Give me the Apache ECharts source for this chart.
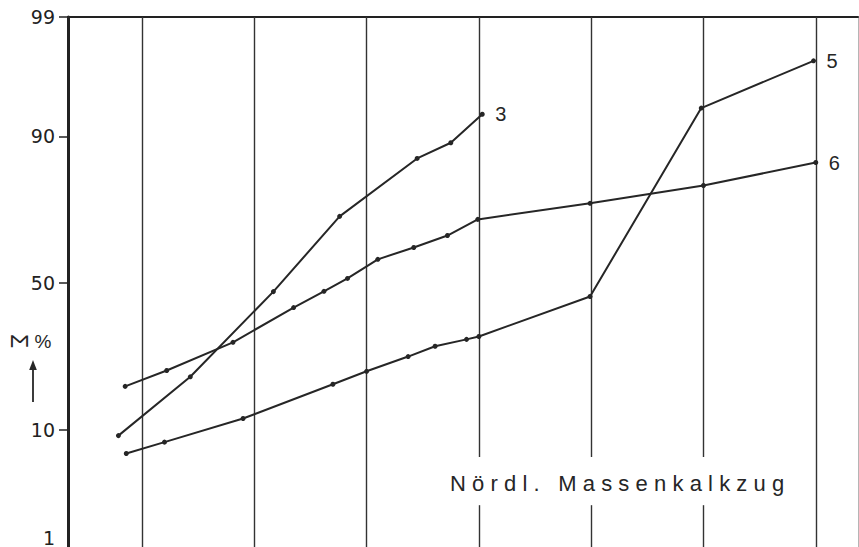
<!DOCTYPE html>
<html>
<head>
<meta charset="utf-8">
<script src="https://cdn.jsdelivr.net/npm/echarts@6/dist/echarts.min.js"></script>
<style>
  html, body { margin: 0; padding: 0; background: #fff; }
  #chart { width: 859px; height: 547px; }
</style>
</head>
<body>
<div id="chart"></div>
<script>
// Cumulative percentage curves on a probability (normal) scale.
// x: position across the grid columns (vertical rules at 1..7), y: cumulative percent.
const series3X = [0.79, 1.43, 2.17, 2.76, 3.45, 3.75, 4.03];
const series3Y = [9.1, 20.6, 47, 72, 86.2, 89, 93];

const series5X = [0.86, 1.20, 1.90, 2.70, 3.00, 3.37, 3.61, 3.89, 4.00, 4.99, 5.98, 6.98];
const series5Y = [6.8, 8.2, 11.8, 18.8, 22, 26, 29, 31.1, 32, 45.3, 93.7, 97.4];

const series6X = [0.85, 1.22, 1.81, 2.35, 2.62, 2.83, 3.10, 3.42, 3.72, 3.99, 4.99, 6.00, 7.00];
const series6Y = [18.3, 22.2, 30.2, 41.5, 47.1, 51.6, 58.2, 62.2, 66.1, 71.1, 75.7, 80.3, 85.4];

const seriesNames = ['3', '5', '6'];
const yTickPercents = [1, 10, 50, 90, 99];
const columnRules = [1, 2, 3, 4, 5, 6, 7];
// rules interrupted behind the caption, and the percent band left open for it
const rulesBehindCaption = [4, 5, 6];
const captionBand = [2.6, 6.4];
const regionLabel = 'Nördl. Massenkalkzug';

// Inverse of the standard normal CDF (Acklam's rational approximation)
function probit(p) {
  const a = [-3.969683028665376e+01, 2.209460984245205e+02, -2.759285104469687e+02, 1.383577518672690e+02, -3.066479806614716e+01, 2.506628277459239e+00];
  const b = [-5.447609879822406e+01, 1.615858368580409e+02, -1.556989798598866e+02, 6.680131188771972e+01, -1.328068155288572e+01];
  const c = [-7.784894002430293e-03, -3.223964580411365e-01, -2.400758277161838e+00, -2.549732539343734e+00, 4.374664141464968e+00, 2.938163982698783e+00];
  const d = [7.784695709041462e-03, 3.224671290700398e-01, 2.445134137142996e+00, 3.754408661907416e+00];
  const pl = 0.02425, ph = 1 - pl;
  let q, r;
  if (p < pl) {
    q = Math.sqrt(-2 * Math.log(p));
    return (((((c[0]*q + c[1])*q + c[2])*q + c[3])*q + c[4])*q + c[5]) / ((((d[0]*q + d[1])*q + d[2])*q + d[3])*q + 1);
  }
  if (p <= ph) {
    q = p - 0.5; r = q * q;
    return (((((a[0]*r + a[1])*r + a[2])*r + a[3])*r + a[4])*r + a[5]) * q / (((((b[0]*r + b[1])*r + b[2])*r + b[3])*r + b[4])*r + 1);
  }
  q = Math.sqrt(-2 * Math.log(1 - p));
  return -(((((c[0]*q + c[1])*q + c[2])*q + c[3])*q + c[4])*q + c[5]) / ((((d[0]*q + d[1])*q + d[2])*q + d[3])*q + 1);
}

const toPoints = (xs, ys) => xs.map((x, i) => [x, probit(ys[i] / 100)]);
const yTickValues = yTickPercents.map(p => probit(p / 100));
const yMin = probit(0.01), yMax = probit(0.99);

const ink = '#262626';
const font = "'Liberation Sans', Arial, sans-serif";
const tickFont = "'DejaVu Sans', sans-serif";

// vertical rules: full height, or split around the caption band
const ruleData = [];
columnRules.forEach(function (v) {
  if (rulesBehindCaption.indexOf(v) >= 0) {
    ruleData.push([{ coord: [v, yMax] }, { coord: [v, probit(captionBand[1] / 100)] }]);
    ruleData.push([{ coord: [v, probit(captionBand[0] / 100)] }, { coord: [v, yMin] }]);
  } else {
    ruleData.push({ xAxis: v });
  }
});

function lineSeries(name, xs, ys, extra) {
  return Object.assign({
    type: 'line',
    name: name,
    data: toPoints(xs, ys),
    symbol: 'circle',
    symbolSize: 5,
    showSymbol: true,
    itemStyle: { color: ink },
    lineStyle: { color: ink, width: 2 },
    endLabel: {
      show: true, formatter: name, distance: 13,
      fontSize: 20, fontFamily: font, color: ink
    },
    emphasis: { disabled: true },
    silent: true,
    z: 5
  }, extra || {});
}

const chart = echarts.init(document.getElementById('chart'), null, { renderer: 'svg' });
chart.setOption({
  animation: false,
  backgroundColor: '#fff',
  grid: { left: 68, right: 1, top: 17, height: 532, outerBoundsMode: 'none', containLabel: false },
  xAxis: {
    type: 'value', min: 0.341, max: 7.376, position: 'top',
    axisLine: { show: true, onZero: false, lineStyle: { color: '#222', width: 2 } },
    axisTick: { show: false }, axisLabel: { show: false }, splitLine: { show: false }
  },
  yAxis: [{
    type: 'value', min: yMin, max: yMax,
    axisLine: { show: true, onZero: false, lineStyle: { color: '#222', width: 3 } },
    axisTick: { show: true, customValues: yTickValues, length: 9, lineStyle: { color: '#222', width: 1.5 } },
    axisLabel: {
      show: true, customValues: yTickValues, margin: 13,
      fontSize: 19, fontFamily: tickFont, color: '#222',
      formatter: function (v) {
        let best = 0;
        yTickValues.forEach((t, i) => { if (Math.abs(t - v) < Math.abs(yTickValues[best] - v)) best = i; });
        const txt = String(yTickPercents[best]);
        // the lowest label sits at the lower edge; lift it so it stays on the page
        return best === 0 ? '{low|' + txt + '}' : txt;
      },
      rich: {
        low: { fontSize: 19, fontFamily: tickFont, color: '#222', padding: [0, 0, 22, 0] }
      }
    },
    splitLine: { show: false }
  }, {
    type: 'value', min: yMin, max: yMax, position: 'right',
    axisLine: { show: true, onZero: false, lineStyle: { color: '#b5b5b5', width: 1 } },
    axisTick: { show: false }, axisLabel: { show: false }, splitLine: { show: false }
  }],
  series: [
    lineSeries(seriesNames[0], series3X, series3Y, {
      markLine: {
        silent: true, symbol: 'none', label: { show: false },
        lineStyle: { color: '#333', width: 1.4, type: 'solid' },
        emphasis: { disabled: true },
        data: ruleData
      }
    }),
    lineSeries(seriesNames[1], series5X, series5Y),
    lineSeries(seriesNames[2], series6X, series6Y)
  ],
  graphic: {
    elements: [
      { type: 'text', x: 450, y: 483, silent: true,
        style: { text: regionLabel, fontSize: 22, fontFamily: font, fill: ink,
                 align: 'left', verticalAlign: 'middle' } },
      { type: 'text', x: 19, y: 341, rotation: -Math.PI / 2, silent: true,
        style: { text: 'Σ', fontSize: 23, fontFamily: font, fill: ink,
                 align: 'center', verticalAlign: 'middle' } },
      { type: 'text', x: 43, y: 341, silent: true,
        style: { text: '%', fontSize: 19, fontFamily: font, fill: ink,
                 align: 'center', verticalAlign: 'middle' } },
      { type: 'line', silent: true,
        shape: { x1: 33, y1: 402, x2: 33, y2: 367 },
        style: { stroke: ink, lineWidth: 1.8 } },
      { type: 'polygon', silent: true,
        shape: { points: [[33, 360], [29.2, 370], [36.8, 370]] },
        style: { fill: ink } }
    ]
  }
});

// Widen the tracking of the region caption
function spaceCaption() {
  document.querySelectorAll('#chart svg text').forEach(function (el) {
    if (el.textContent === regionLabel) {
      el.setAttribute('letter-spacing', '6.2');
      el.style.letterSpacing = '6.2px';
    }
  });
}
chart.on('finished', spaceCaption);
spaceCaption();
</script>
</body>
</html>
